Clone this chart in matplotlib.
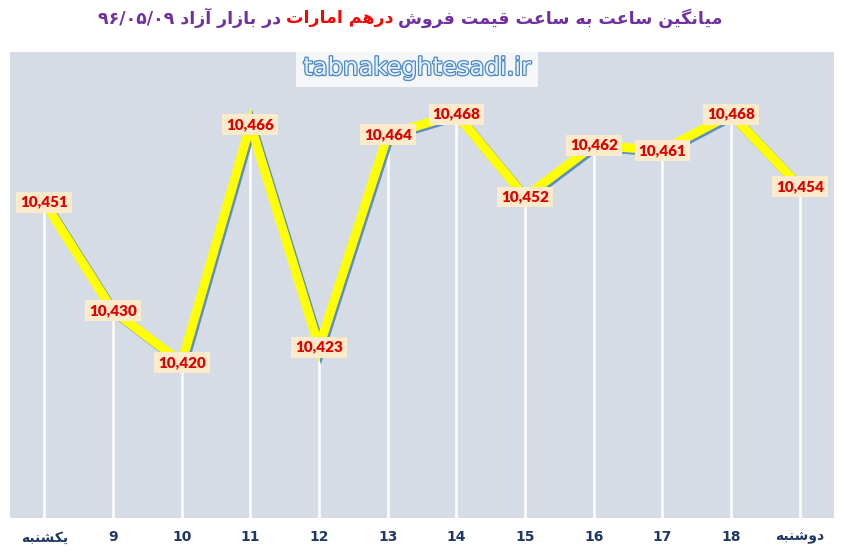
import matplotlib
matplotlib.use('Agg')
import matplotlib.pyplot as plt
import matplotlib.patheffects as pe

# داده‌ها
ساعت_ها = ['یکشنبه', '9', '10', '11', '12', '13', '14', '15', '16', '17', '18', 'دوشنبه']
قیمت_ها = [10451, 10430, 10420, 10466, 10423, 10464, 10468, 10452, 10462, 10461, 10468, 10454]

title_left = 'در بازار آزاد ۹۶/۰۵/۰۹'
title_red = 'درهم امارات'
title_right = 'میانگین ساعت به ساعت قیمت فروش'

# ---------- شکل‌دهی حروف فارسی (matplotlib خودش انجام نمی‌دهد) ----------
# isolated, final, initial, medial
FORMS = {
    'ا': ('\uFE8D', '\uFE8E'), 'آ': ('\uFE81', '\uFE82'),
    'د': ('\uFEA9', '\uFEAA'), 'ر': ('\uFEAD', '\uFEAE'),
    'ز': ('\uFEAF', '\uFEB0'), 'و': ('\uFEED', '\uFEEE'),
    'ب': ('\uFE8F', '\uFE90', '\uFE91', '\uFE92'),
    'ت': ('\uFE95', '\uFE96', '\uFE97', '\uFE98'),
    'س': ('\uFEB1', '\uFEB2', '\uFEB3', '\uFEB4'),
    'ش': ('\uFEB5', '\uFEB6', '\uFEB7', '\uFEB8'),
    'ع': ('\uFEC9', '\uFECA', '\uFECB', '\uFECC'),
    'ف': ('\uFED1', '\uFED2', '\uFED3', '\uFED4'),
    'ق': ('\uFED5', '\uFED6', '\uFED7', '\uFED8'),
    'م': ('\uFEE1', '\uFEE2', '\uFEE3', '\uFEE4'),
    'ن': ('\uFEE5', '\uFEE6', '\uFEE7', '\uFEE8'),
    'ه': ('\uFEE9', '\uFEEA', '\uFEEB', '\uFEEC'),
    'ی': ('\uFBFC', '\uFBFD', '\uFBFE', '\uFBFF'),
    'گ': ('\uFB92', '\uFB93', '\uFB94', '\uFB95'),
    'ک': ('\uFB8E', '\uFB8F', '\uFB90', '\uFB91'),
}


def shape_word(w):
    out = []
    for i, ch in enumerate(w):
        if ch not in FORMS:
            out.append(ch)
            continue
        prev = w[i - 1] if i > 0 else None
        nxt = w[i + 1] if i + 1 < len(w) else None
        join_prev = prev in FORMS and len(FORMS[prev]) == 4
        join_next = len(FORMS[ch]) == 4 and nxt in FORMS
        if join_prev and join_next:
            out.append(FORMS[ch][3])
        elif join_prev:
            out.append(FORMS[ch][1])
        elif join_next:
            out.append(FORMS[ch][2])
        else:
            out.append(FORMS[ch][0])
    return ''.join(out)


def rtl(text):
    words = []
    for w in text.split(' '):
        if any(c in FORMS for c in w):
            words.append(shape_word(w)[::-1])
        else:
            words.append(w)
    return ' '.join(words[::-1])


# ---------- نمودار ----------
fig = plt.figure(figsize=(8.41, 5.52), dpi=100)
ax = fig.add_axes([0.0119, 0.0616, 0.98, 0.8442])
ax.set_facecolor('#D5DCE6')
for s in ax.spines.values():
    s.set_visible(False)

x = list(range(len(قیمت_ها)))
ymin, ymax = 10390, 10480
ax.set_xlim(-0.5, len(x) - 0.5)
ax.set_ylim(ymin, ymax)

ax.vlines(x, ymin, قیمت_ها, colors='white', linewidth=1.8, zorder=1)
ax.plot(x, قیمت_ها, color='#FFFF00', linewidth=6.6, solid_joinstyle='miter', zorder=2,
        path_effects=[pe.SimpleLineShadow(offset=(1.4, -1.4), shadow_color='#5B8EC2', alpha=1),
                      pe.Normal()])

for xi, v in zip(x, قیمت_ها):
    ax.text(xi, v, '{:,}'.format(v), ha='center', va='center', fontsize=11,
            fontweight='heavy', family='Lato', color='#E00000', zorder=3,
            bbox=dict(boxstyle='square,pad=0.26', facecolor='#FCEBCB', edgecolor='none'))

ax.set_xticks(x)
ax.set_xticklabels([rtl(t) for t in ساعت_ها], fontsize=10, fontweight='bold', color='#1F3864',
                   family=['Liberation Sans Narrow', 'DejaVu Sans'])
ax.tick_params(axis='x', length=0, pad=9)
ax.set_yticks([])

# واترمارک
ax.text(0.494, 0.966, 'tabnakeghtesadi.ir', transform=ax.transAxes, ha='center', va='center',
        fontsize=17.5, color='#E6F0FA', zorder=4,
        path_effects=[pe.withStroke(linewidth=1.8, foreground='#4A86C8')],
        bbox=dict(boxstyle='square,pad=0.3', facecolor='white', alpha=0.75, edgecolor='none'))

# عنوان دو رنگ
purple = '#7030A0'
parts = [(rtl(title_left), purple), (rtl(title_red), '#FF0000'), (rtl(title_right), purple)]
texts = [fig.text(0, 0.967, p, color=c, fontsize=12.5, fontweight='bold', ha='left', va='center',
                  family='DejaVu Sans') for p, c in parts]
fig.canvas.draw()
r = fig.canvas.get_renderer()
widths = [t.get_window_extent(r).width for t in texts]
gap = 5
total = sum(widths) + gap * (len(widths) - 1)
W = fig.get_figwidth() * fig.dpi
start = 410 - total / 2
for t, w in zip(texts, widths):
    t.set_x(start / W)
    start += w + gap

fig.savefig('out.png', dpi=100)
